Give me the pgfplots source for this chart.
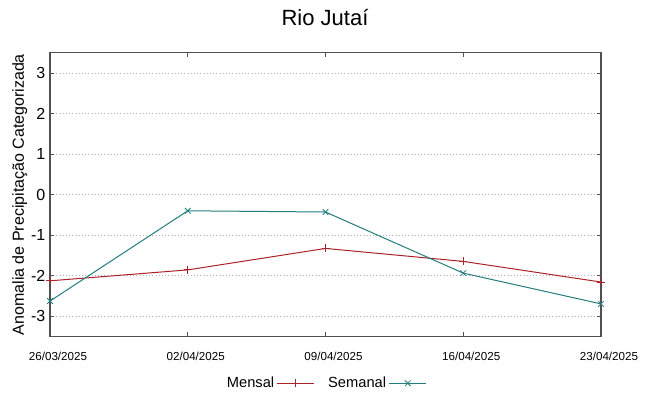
\documentclass[border=0pt]{standalone}
\usepackage{pgfplots}
\pgfplotsset{compat=1.18}
\usepackage{fontspec}
\setmainfont{Liberation Sans}
\definecolor{mensal}{RGB}{170,35,40}
\definecolor{semanal}{RGB}{35,125,125}
\definecolor{axgray}{RGB}{80,80,80}
\begin{document}
\begin{tikzpicture}
\path[use as bounding box] (0,0) rectangle (486.75pt,297pt);
\node[font=\fontsize{16.5}{18}\selectfont] at (243.75pt,283.5pt) {Rio Jutaí};
\begin{axis}[
  at={(37.5pt,44.8pt)}, anchor=south west,
  scale only axis, width=413.25pt, height=212.5pt,
  xmin=0, xmax=4, ymin=-3.5, ymax=3.5,
  xtick={0,1,2,3,4},
  xticklabels={26/03/2025,02/04/2025,09/04/2025,16/04/2025,23/04/2025},
  xticklabel style={font=\fontsize{8.7}{9}\selectfont, xshift=6pt, yshift=-8pt},
  ytick={-3,-2,-1,0,1,2,3},
  yticklabel style={font=\fontsize{12}{12}\selectfont},
  /pgf/number format/assume math mode=true,
  ymajorgrids, major grid style={gray!60, dotted, line width=0.6pt},
  tick align=inside, major tick length=3pt,
  tick style={axgray, line width=0.6pt},
  axis line style={axgray, line width=0.8pt},
  ylabel={Anomalia de Precipitação Categorizada},
  ylabel style={font=\fontsize{12}{12}\selectfont, yshift=-4pt},
  legend columns=2,
  legend plot pos=right,
  legend style={draw=none, fill=none, at={(0.5,-0.166)}, anchor=center,
    font=\fontsize{11}{11}\selectfont,
    /tikz/every even column/.append style={column sep=8pt}},
  legend image code/.code={
    \draw[#1] (0pt,0pt) -- (27.75pt,0pt);
    \draw[#1, only marks] plot coordinates {(13.9pt,0pt)};
  },
]
\addplot[mensal, line width=0.75pt, mark=+, mark size=3pt, mark options={line width=0.6pt}]
  coordinates {(0,-2.13) (1,-1.86) (2,-1.33) (3,-1.65) (4,-2.16)};
\addlegendentry{Mensal}
\addplot[semanal, line width=0.75pt, mark=x, mark size=3pt, mark options={line width=0.6pt}]
  coordinates {(0,-2.63) (1,-0.40) (2,-0.43) (3,-1.94) (4,-2.70)};
\addlegendentry{Semanal}
\end{axis}
\end{tikzpicture}
\end{document}
